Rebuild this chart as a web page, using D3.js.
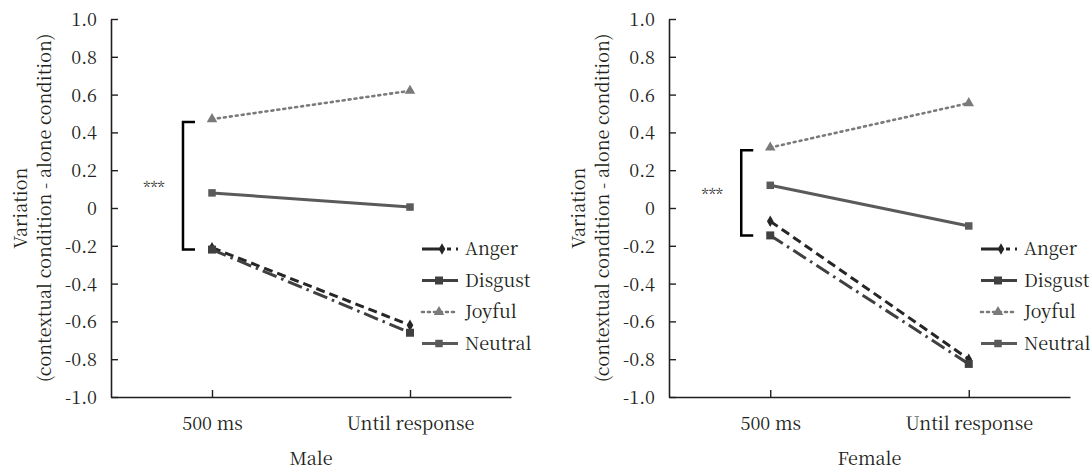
<!DOCTYPE html>
<html>
<head>
<meta charset="utf-8">
<script src="https://cdn.jsdelivr.net/npm/d3@7"></script>
<style>
  body { margin: 0; background: #fff; }
</style>
</head>
<body>
<div id="chart"></div>
<script>
// data
const conditions = ["500 ms", "Until response"];
const emotions = ["Anger", "Disgust", "Joyful", "Neutral"];
const yTicks = [1.0, 0.8, 0.6, 0.4, 0.2, 0, -0.2, -0.4, -0.6, -0.8, -1.0];

const maleAnger = [-0.21, -0.62];
const maleDisgust = [-0.22, -0.66];
const maleJoyful = [0.47, 0.62];
const maleNeutral = [0.08, 0.005];
const maleBracket = [0.455, -0.22];

const femaleAnger = [-0.07, -0.80];
const femaleDisgust = [-0.145, -0.825];
const femaleJoyful = [0.32, 0.555];
const femaleNeutral = [0.12, -0.095];
const femaleBracket = [0.305, -0.145];

// look of each series
const style = {
  Anger:   {color: "#262626", dash: "9,5",        width: 3,   symbol: d3.symbolDiamond,  size: 38},
  Disgust: {color: "#404040", dash: "15,5,2.5,5", width: 3,   symbol: d3.symbolSquare,   size: 64},
  Joyful:  {color: "#7a7a7a", dash: "2,4",        width: 2.6, symbol: d3.symbolTriangle, size: 48},
  Neutral: {color: "#5a5a5a", dash: null,         width: 3,   symbol: d3.symbolSquare,   size: 56}
};

const W = 1090, H = 471;
const FONT = '"Noto Serif CJK KR", "Liberation Serif", serif';
const fontSize = "18px";
const ink = "#231f20";

const svg = d3.select("#chart").append("svg")
  .attr("width", W)
  .attr("height", H);

function fmt(d) {
  return d === 0 ? "0" : d3.format(".1f")(d).replace("\u2212", "-");
}

function txt(sel, size) {
  return sel.style("font-family", FONT).style("font-size", size || fontSize).style("fill", ink);
}

function panel(left, right, title, series, bracket) {
  const top = 19, bottom = 397;

  const x = d3.scalePoint()
    .domain(conditions)
    .range([left, right])
    .padding(0.51);

  const y = d3.scaleLinear()
    .domain([-1, 1])
    .range([bottom, top]);

  const g = svg.append("g");

  // y axis
  const ya = g.append("g")
    .attr("transform", `translate(${left},0)`)
    .call(d3.axisLeft(y).tickValues(yTicks).tickFormat(fmt)
      .tickSizeInner(-7).tickSizeOuter(0).tickPadding(14));

  // x axis
  const xa = g.append("g")
    .attr("transform", `translate(0,${bottom})`)
    .call(d3.axisBottom(x).tickSizeInner(-7).tickSizeOuter(0).tickPadding(20));

  [ya, xa].forEach(a => {
    a.select(".domain").attr("stroke", ink).attr("stroke-width", 1.6);
    a.selectAll(".tick line").attr("stroke", ink).attr("stroke-width", 1.4);
    txt(a.selectAll(".tick text"));
  });
  ya.selectAll(".tick text").attr("dy", "0.36em");

  // y label, two lines
  txt(g.append("text"))
    .attr("transform", `translate(${left - 84},${(top + bottom) / 2}) rotate(-90)`)
    .attr("text-anchor", "middle")
    .text("Variation");
  txt(g.append("text"))
    .attr("transform", `translate(${left - 60},${(top + bottom) / 2}) rotate(-90)`)
    .attr("text-anchor", "middle")
    .text("(contextual condition - alone condition)");

  // panel title
  txt(g.append("text"))
    .attr("x", (left + right) / 2)
    .attr("y", 465)
    .attr("text-anchor", "middle")
    .text(title);

  // significance bracket
  const bx = x(conditions[0]) - 29;
  g.append("path")
    .attr("d", `M${bx + 12},${y(bracket[0])}H${bx}V${y(bracket[1])}H${bx + 12}`)
    .attr("fill", "none")
    .attr("stroke", "#000")
    .attr("stroke-width", 2.5);
  txt(g.append("text"), "15px")
    .attr("x", bx - 29)
    .attr("y", (y(bracket[0]) + y(bracket[1])) / 2 + 7)
    .attr("text-anchor", "middle")
    .text("***");

  const line = d3.line()
    .x((d, i) => x(conditions[i]))
    .y(d => y(d));

  // draw Joyful/Neutral first, then Anger and Disgust on top
  ["Joyful", "Neutral", "Anger", "Disgust"].forEach(name => {
    const s = style[name];
    const vals = series[name];
    g.append("path")
      .datum(vals)
      .attr("d", line)
      .attr("fill", "none")
      .attr("stroke", s.color)
      .attr("stroke-width", s.width)
      .attr("stroke-dasharray", s.dash)
      .attr("stroke-linecap", name === "Joyful" ? "round" : "butt");
    g.selectAll(null)
      .data(vals)
      .join("path")
      .attr("transform", (d, i) => `translate(${x(conditions[i])},${y(d)})`)
      .attr("d", d3.symbol().type(s.symbol).size(s.size))
      .attr("fill", s.color);
  });

  // legend
  const lg = g.append("g")
    .attr("transform", `translate(${right - 89},249)`);
  emotions.forEach((name, i) => {
    const s = style[name];
    const row = lg.append("g").attr("transform", `translate(0,${i * 31.5})`);
    row.append("line")
      .attr("x1", 0).attr("x2", 36)
      .attr("stroke", s.color)
      .attr("stroke-width", s.width)
      .attr("stroke-dasharray", name === "Anger" ? "20,5,4,5" : (name === "Joyful" ? "2,4" : null))
      .attr("stroke-linecap", name === "Joyful" ? "round" : "butt");
    row.append("path")
      .attr("transform", `translate(${name === "Anger" ? 20 : 17},0)`)
      .attr("d", d3.symbol().type(s.symbol).size(s.size))
      .attr("fill", s.color);
    txt(row.append("text"))
      .attr("x", 43)
      .attr("y", 6)
      .text(name);
  });
}

panel(111, 511, "Male",
  {Anger: maleAnger, Disgust: maleDisgust, Joyful: maleJoyful, Neutral: maleNeutral},
  maleBracket);
panel(669, 1070, "Female",
  {Anger: femaleAnger, Disgust: femaleDisgust, Joyful: femaleJoyful, Neutral: femaleNeutral},
  femaleBracket);
</script>
</body>
</html>
